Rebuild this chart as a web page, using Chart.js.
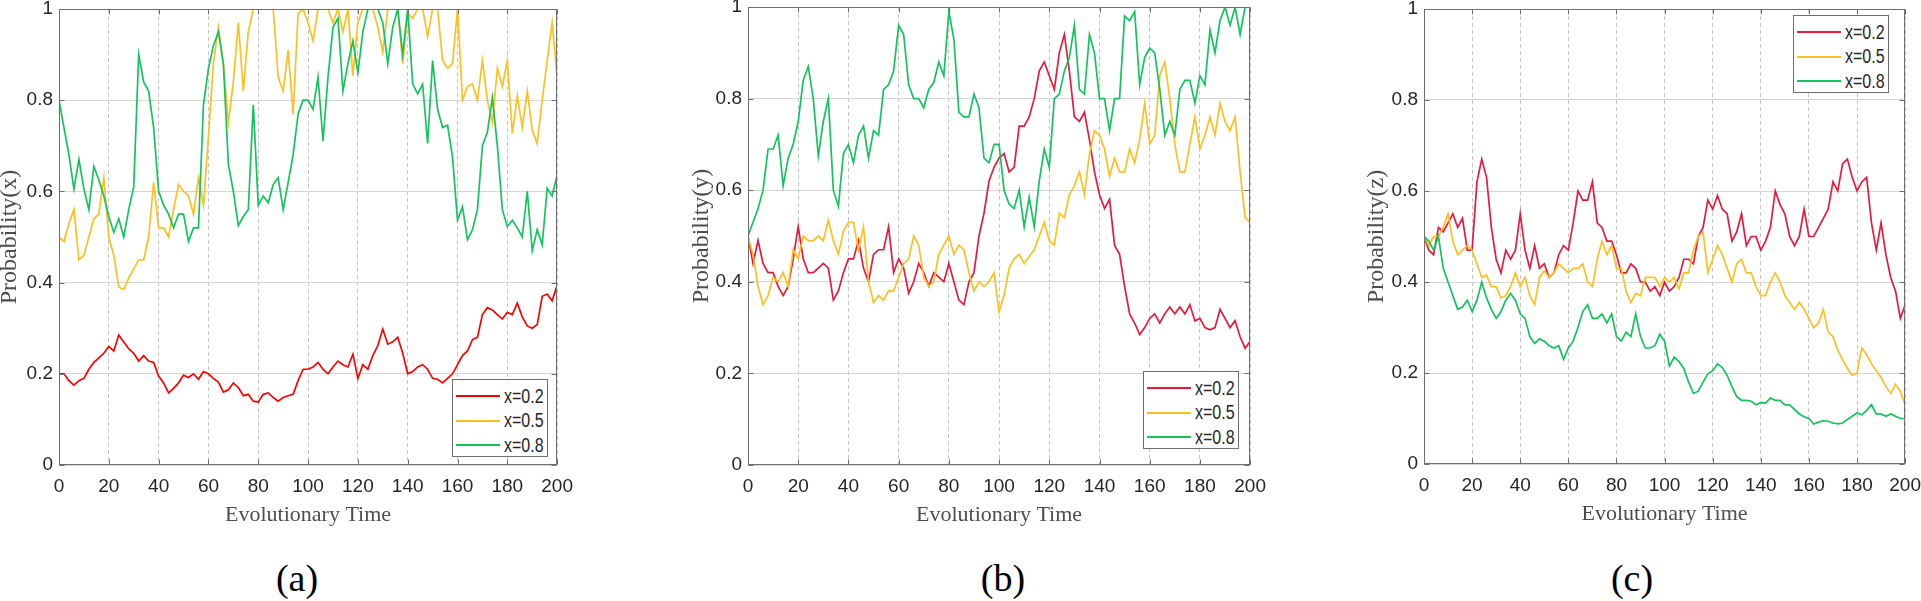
<!DOCTYPE html>
<html>
<head>
<meta charset="utf-8">
<script src="https://cdn.jsdelivr.net/npm/chart.js@4.4.1/dist/chart.umd.min.js"></script>
<style>
    html, body { margin: 0; padding: 0; background: #fff; }
    body { position: relative; width: 1921px; height: 601px; overflow: hidden; }
    .panel { position: absolute; }
    .legend { position: absolute; width: 96px; height: 78px; box-sizing: border-box; background: #fff;
              border: 1px solid #6f6f6f; color: #262626;
              font: 20px 'Liberation Sans', Arial, sans-serif; }
    .legend .row { position: absolute; left: 0; right: 0; height: 24px; margin-top: -12px; display: flex; align-items: center; }
    .legend .swatch { width: 44px; height: 0; border-top: 2px solid; margin: 0 4px 0 3px; flex: none; }
    .legend .label { display: inline-block; transform: scaleX(0.8); transform-origin: left center; white-space: nowrap; }
    .caption { position: absolute; transform: translate(-50%, -50%); font: 38px 'Liberation Serif', serif; color: #000; }
</style>
</head>
<body>
<script>
const time = [0, 2, 4, 6, 8, 10, 12, 14, 16, 18, 20, 22, 24, 26, 28, 30, 32, 34, 36, 38,
    40, 42, 44, 46, 48, 50, 52, 54, 56, 58, 60, 62, 64, 66, 68, 70, 72, 74, 76, 78,
    80, 82, 84, 86, 88, 90, 92, 94, 96, 98, 100, 102, 104, 106, 108, 110, 112, 114, 116, 118,
    120, 122, 124, 126, 128, 130, 132, 134, 136, 138, 140, 142, 144, 146, 148, 150, 152, 154, 156, 158,
    160, 162, 164, 166, 168, 170, 172, 174, 176, 178, 180, 182, 184, 186, 188, 190, 192, 194, 196, 198, 200];

const seriesLabels = ['x=0.2', 'x=0.5', 'x=0.8'];
const xTicks = [0, 20, 40, 60, 80, 100, 120, 140, 160, 180, 200];
const yTicks = [0, 0.2, 0.4, 0.6, 0.8, 1];

// (a) Probability(x)
const aRed = [0.20, 0.20, 0.185, 0.175, 0.185, 0.19, 0.21, 0.225, 0.235, 0.245,
    0.26, 0.25, 0.285, 0.27, 0.255, 0.245, 0.228, 0.24, 0.228, 0.225,
    0.195, 0.18, 0.158, 0.168, 0.18, 0.197, 0.192, 0.2, 0.188, 0.205,
    0.2, 0.19, 0.182, 0.16, 0.165, 0.18, 0.17, 0.152, 0.155, 0.14,
    0.138, 0.155, 0.158, 0.148, 0.14, 0.148, 0.152, 0.155, 0.185, 0.21,
    0.21, 0.215, 0.225, 0.21, 0.2, 0.215, 0.228, 0.22, 0.215, 0.243,
    0.19, 0.22, 0.21, 0.24, 0.262, 0.298, 0.265, 0.27, 0.28, 0.245,
    0.2, 0.205, 0.215, 0.22, 0.21, 0.19, 0.188, 0.18, 0.19, 0.2,
    0.22, 0.24, 0.25, 0.275, 0.28, 0.33, 0.345, 0.34, 0.33, 0.32,
    0.335, 0.33, 0.355, 0.325, 0.305, 0.3, 0.308, 0.37, 0.375, 0.36,
    0.395];
const aYellow = [0.50, 0.49, 0.53, 0.56, 0.45, 0.46, 0.5, 0.54, 0.55, 0.63,
    0.5, 0.46, 0.39, 0.385, 0.41, 0.43, 0.45, 0.45, 0.5, 0.62,
    0.52, 0.52, 0.5, 0.56, 0.615, 0.6, 0.59, 0.55, 0.63, 0.57,
    0.72, 0.88, 0.96, 0.88, 0.75, 0.84, 0.97, 0.82, 0.95, 1.0,
    1.0, 1.0, 1.0, 1.0, 0.85, 0.82, 0.91, 0.77, 0.99, 1.0,
    0.97, 0.93, 1.0, 1.0, 1.0, 0.97, 1.0, 0.95, 1.0, 0.854,
    0.97, 1.0, 1.0, 1.0, 0.96, 0.905, 1.0, 1.0, 1.0, 0.88,
    0.99, 0.98, 1.0, 1.0, 0.94, 1.0, 1.0, 0.887, 0.87, 0.88,
    1.0, 0.8, 0.83, 0.836, 0.8, 0.887, 0.8, 0.75, 0.87, 0.83,
    0.887, 0.727, 0.81, 0.74, 0.82, 0.735, 0.705, 0.8, 0.887, 0.97,
    0.85];
const aGreen = [0.80, 0.74, 0.68, 0.605, 0.67, 0.605, 0.56, 0.655, 0.625, 0.59,
    0.545, 0.51, 0.54, 0.5, 0.56, 0.61, 0.9, 0.84, 0.82, 0.74,
    0.6, 0.57, 0.55, 0.52, 0.55, 0.55, 0.49, 0.52, 0.52, 0.79,
    0.87, 0.92, 0.95, 0.88, 0.66, 0.6, 0.525, 0.545, 0.56, 0.79,
    0.57, 0.59, 0.575, 0.615, 0.63, 0.56, 0.62, 0.68, 0.77, 0.8,
    0.8, 0.78, 0.85, 0.71, 0.85, 0.96, 0.98, 0.82, 0.88, 0.93,
    0.86, 0.95, 1.0, 1.0, 1.0, 0.97, 0.88, 0.96, 1.0, 0.9,
    1.0, 0.836, 0.814, 0.835, 0.705, 0.887, 0.78, 0.74, 0.745, 0.675,
    0.537, 0.566, 0.494, 0.516, 0.56, 0.7, 0.73, 0.806, 0.7, 0.56,
    0.523, 0.537, 0.52, 0.5, 0.6, 0.47, 0.516, 0.483, 0.607, 0.59,
    0.636];

// (b) Probability(y)
const bRed = [0.50, 0.44, 0.49, 0.44, 0.42, 0.42, 0.39, 0.37, 0.39, 0.45,
    0.52, 0.45, 0.42, 0.42, 0.43, 0.44, 0.43, 0.36, 0.38, 0.42,
    0.45, 0.45, 0.49, 0.43, 0.4, 0.46, 0.47, 0.47, 0.52, 0.42,
    0.45, 0.43, 0.375, 0.4, 0.44, 0.42, 0.39, 0.42, 0.41, 0.4,
    0.44, 0.4, 0.36, 0.35, 0.4, 0.42, 0.5, 0.55, 0.62, 0.65,
    0.67, 0.68, 0.64, 0.65, 0.74, 0.74, 0.76, 0.8, 0.86, 0.88,
    0.85, 0.82, 0.9, 0.94, 0.86, 0.76, 0.75, 0.77, 0.71, 0.64,
    0.59, 0.56, 0.58, 0.48, 0.46, 0.39, 0.33, 0.31, 0.285, 0.3,
    0.32, 0.33, 0.31, 0.33, 0.345, 0.33, 0.345, 0.33, 0.35, 0.315,
    0.32, 0.3, 0.295, 0.3, 0.34, 0.32, 0.3, 0.315, 0.28, 0.255,
    0.27];
const bYellow = [0.50, 0.46, 0.39, 0.35, 0.37, 0.41, 0.4, 0.42, 0.39, 0.47,
    0.45, 0.5, 0.49, 0.49, 0.5, 0.49, 0.535, 0.49, 0.46, 0.51,
    0.53, 0.53, 0.47, 0.52, 0.4, 0.355, 0.37, 0.36, 0.38, 0.38,
    0.41, 0.44, 0.45, 0.5, 0.48, 0.41, 0.39, 0.4, 0.46, 0.48,
    0.5, 0.46, 0.48, 0.47, 0.42, 0.38, 0.4, 0.39, 0.4, 0.42,
    0.335, 0.37, 0.43, 0.45, 0.46, 0.44, 0.455, 0.47, 0.5, 0.53,
    0.49, 0.48, 0.55, 0.54, 0.59, 0.61, 0.64, 0.59, 0.68, 0.73,
    0.72, 0.69, 0.63, 0.67, 0.64, 0.64, 0.69, 0.66, 0.71, 0.79,
    0.7, 0.72, 0.85, 0.88, 0.8, 0.7, 0.64, 0.64, 0.7, 0.76,
    0.69, 0.72, 0.76, 0.72, 0.79, 0.75, 0.73, 0.76, 0.64, 0.54,
    0.53];
const bGreen = [0.50, 0.53, 0.56, 0.6, 0.69, 0.69, 0.72, 0.61, 0.67, 0.7,
    0.75, 0.84, 0.87, 0.8, 0.675, 0.75, 0.8, 0.6, 0.565, 0.68,
    0.7, 0.66, 0.72, 0.74, 0.67, 0.73, 0.72, 0.82, 0.83, 0.86,
    0.96, 0.94, 0.83, 0.8, 0.8, 0.78, 0.82, 0.835, 0.88, 0.85,
    0.99, 0.93, 0.77, 0.76, 0.76, 0.81, 0.78, 0.67, 0.66, 0.7,
    0.7, 0.6, 0.57, 0.56, 0.6, 0.52, 0.585, 0.52, 0.62, 0.69,
    0.65, 0.8, 0.81, 0.86, 0.89, 0.96, 0.82, 0.81, 0.94, 0.9,
    0.8, 0.8, 0.73, 0.8, 0.8, 0.98, 0.97, 0.99, 0.83, 0.89,
    0.91, 0.9, 0.82, 0.72, 0.75, 0.72, 0.82, 0.84, 0.84, 0.79,
    0.85, 0.83, 0.95, 0.9, 0.97, 1.0, 0.96, 1.0, 0.94, 1.0,
    1.0];

// (c) Probability(z)
const cRed = [0.50, 0.47, 0.46, 0.52, 0.51, 0.53, 0.55, 0.52, 0.54, 0.47,
    0.47, 0.62, 0.67, 0.63, 0.52, 0.45, 0.42, 0.47, 0.45, 0.47,
    0.55, 0.47, 0.43, 0.48, 0.43, 0.44, 0.41, 0.42, 0.46, 0.48,
    0.47, 0.53, 0.6, 0.58, 0.58, 0.62, 0.53, 0.52, 0.49, 0.49,
    0.46, 0.42, 0.42, 0.44, 0.43, 0.4, 0.4, 0.38, 0.39, 0.37,
    0.4, 0.38, 0.39, 0.41, 0.45, 0.45, 0.44, 0.5, 0.52, 0.58,
    0.56, 0.59, 0.56, 0.55, 0.49, 0.51, 0.55, 0.48, 0.5, 0.5,
    0.47, 0.49, 0.52, 0.6, 0.57, 0.55, 0.5, 0.48, 0.5, 0.56,
    0.5, 0.5, 0.52, 0.54, 0.56, 0.62, 0.6, 0.66, 0.67, 0.63,
    0.6, 0.62, 0.63, 0.53, 0.47, 0.53, 0.46, 0.41, 0.38, 0.32,
    0.35];
const cYellow = [0.50, 0.48, 0.5, 0.5, 0.52, 0.55, 0.49, 0.46, 0.47, 0.48,
    0.47, 0.44, 0.41, 0.415, 0.39, 0.39, 0.365, 0.37, 0.39, 0.42,
    0.39, 0.41, 0.37, 0.35, 0.41, 0.425, 0.41, 0.42, 0.44, 0.43,
    0.42, 0.43, 0.43, 0.44, 0.4, 0.39, 0.45, 0.49, 0.46, 0.48,
    0.43, 0.43, 0.38, 0.355, 0.375, 0.37, 0.41, 0.41, 0.41, 0.39,
    0.41, 0.4, 0.41, 0.385, 0.42, 0.42, 0.47, 0.5, 0.51, 0.42,
    0.45, 0.48, 0.46, 0.43, 0.4, 0.44, 0.45, 0.42, 0.42, 0.39,
    0.37, 0.37, 0.4, 0.42, 0.4, 0.37, 0.355, 0.34, 0.355, 0.34,
    0.32, 0.3, 0.31, 0.34, 0.29, 0.28, 0.25, 0.23, 0.21, 0.195,
    0.2, 0.255, 0.24, 0.22, 0.205, 0.19, 0.17, 0.155, 0.175, 0.16,
    0.13];
const cGreen = [0.50, 0.49, 0.47, 0.5, 0.43, 0.4, 0.37, 0.34, 0.345, 0.36,
    0.335, 0.36, 0.4, 0.365, 0.34, 0.32, 0.335, 0.36, 0.375, 0.36,
    0.33, 0.32, 0.28, 0.265, 0.275, 0.27, 0.26, 0.255, 0.26, 0.23,
    0.255, 0.27, 0.3, 0.335, 0.35, 0.32, 0.32, 0.33, 0.31, 0.33,
    0.28, 0.27, 0.29, 0.28, 0.33, 0.28, 0.255, 0.255, 0.26, 0.285,
    0.27, 0.215, 0.235, 0.225, 0.21, 0.18, 0.155, 0.16, 0.18, 0.198,
    0.205, 0.22, 0.212, 0.195, 0.17, 0.148, 0.14, 0.14, 0.138, 0.13,
    0.135, 0.134, 0.145, 0.14, 0.14, 0.13, 0.13, 0.12, 0.11, 0.104,
    0.1, 0.088, 0.092, 0.095, 0.094, 0.09, 0.088, 0.09, 0.098, 0.105,
    0.112, 0.108, 0.118, 0.13, 0.11, 0.11, 0.105, 0.11, 0.105, 0.1,
    0.1];

const sansFont = "'Liberation Sans', Arial, sans-serif";
const serifFont = "'Liberation Serif', 'DejaVu Serif', serif";

// layout of the three panels (plot area in page pixels)
const panels = [
    { series: [aRed, aYellow, aGreen], yTitle: 'Probability(x)', caption: '(a)', captionX: 297,
      colors: ['#ff0000', '#ffbf1f', '#12c45e'],
      origin: { left: -5, top: -20 }, plot: { left: 59, top: 9, right: 558, bottom: 465 },
      legend: { left: 452, top: 379 } },
    { series: [bRed, bYellow, bGreen], yTitle: 'Probability(y)', caption: '(b)', captionX: 1003,
      colors: ['#e8193c', '#ffbf1f', '#12c45e'],
      origin: { left: 687, top: -20 }, plot: { left: 748, top: 7, right: 1251, bottom: 465 },
      legend: { left: 1143, top: 371 } },
    { series: [cRed, cYellow, cGreen], yTitle: 'Probability(z)', caption: '(c)', captionX: 1632,
      colors: ['#e8193c', '#ffbf1f', '#12c45e'],
      origin: { left: 1362, top: -20 }, plot: { left: 1424, top: 9, right: 1906, bottom: 464 },
      legend: { left: 1793, top: 15 } }
];

// frame round the plot area with small inward ticks, like the original figure
const framePlugin = {
    id: 'frame',
    afterDraw(chart) {
        const { ctx, chartArea: a } = chart;
        const xs = chart.scales.x, ys = chart.scales.y;
        const l = Math.round(a.left) + 0.5, r = Math.round(a.right) - 0.5;
        const t = Math.round(a.top) + 0.5, b = Math.round(a.bottom) - 0.5;
        ctx.save();
        ctx.strokeStyle = '#6f6f6f';
        ctx.lineWidth = 1;
        ctx.strokeRect(l, t, r - l, b - t);
        ctx.beginPath();
        xs.ticks.forEach(tk => {
            const px = Math.round(xs.getPixelForValue(tk.value)) + 0.5;
            ctx.moveTo(px, b); ctx.lineTo(px, b - 5);
            ctx.moveTo(px, t); ctx.lineTo(px, t + 5);
        });
        ys.ticks.forEach(tk => {
            const py = Math.round(ys.getPixelForValue(tk.value)) + 0.5;
            ctx.moveTo(l, py); ctx.lineTo(l + 5, py);
            ctx.moveTo(r, py); ctx.lineTo(r - 5, py);
        });
        ctx.stroke();
        ctx.restore();
    }
};

function createPanel(p) {
    const xAxisHeight = 64;
    const cw = p.plot.right - p.origin.left + 25;
    const ch = p.plot.bottom + xAxisHeight - p.origin.top;

    const wrap = document.createElement('div');
    wrap.className = 'panel';
    wrap.style.left = p.origin.left + 'px';
    wrap.style.top = p.origin.top + 'px';
    const canvas = document.createElement('canvas');
    canvas.width = cw;
    canvas.height = ch;
    canvas.style.width = cw + 'px';
    canvas.style.height = ch + 'px';
    wrap.appendChild(canvas);
    document.body.appendChild(wrap);

    const chart = new Chart(canvas, {
        type: 'line',
        data: {
            datasets: p.series.map((values, i) => ({
                label: seriesLabels[i],
                data: time.map((t, k) => ({ x: t, y: values[k] })),
                borderColor: p.colors[i],
                borderWidth: 1.7,
                pointRadius: 0,
                fill: false,
                tension: 0,
                order: 3 - i
            }))
        },
        options: {
            responsive: false,
            animation: false,
            layout: {
                padding: {
                    left: 0,
                    top: p.plot.top - p.origin.top,
                    right: cw - (p.plot.right - p.origin.left),
                    bottom: 0
                }
            },
            plugins: {
                legend: { display: false },
                tooltip: { enabled: false }
            },
            scales: {
                x: {
                    type: 'linear',
                    min: 0,
                    max: 200,
                    afterBuildTicks: s => { s.ticks = xTicks.map(v => ({ value: v })); },
                    afterFit: s => { s.height = xAxisHeight; },
                    ticks: {
                        color: '#262626',
                        padding: 10,
                        maxRotation: 0,
                        autoSkip: false,
                        font: { family: sansFont, size: 19 },
                        callback: v => String(v)
                    },
                    grid: { color: '#c6c6c6', lineWidth: 1, drawTicks: false },
                    border: { display: false, dash: [4, 3] },
                    title: {
                        display: true,
                        text: 'Evolutionary Time',
                        color: '#4d4d4d',
                        padding: { top: 0, bottom: 1 },
                        font: { family: serifFont, size: 22 }
                    }
                },
                y: {
                    min: 0,
                    max: 1,
                    afterBuildTicks: s => { s.ticks = yTicks.map(v => ({ value: v })); },
                    afterFit: s => { s.width = p.plot.left - p.origin.left; },
                    ticks: {
                        color: '#262626',
                        padding: 6,
                        font: { family: sansFont, size: 19 },
                        callback: v => String(v)
                    },
                    grid: { color: '#d6d6d6', lineWidth: 1, drawTicks: false },
                    border: { display: false },
                    title: {
                        display: true,
                        text: p.yTitle,
                        color: '#4d4d4d',
                        padding: { top: 0, bottom: 0 },
                        font: { family: serifFont, size: 24 }
                    }
                }
            }
        },
        plugins: [framePlugin]
    });

    // legend box inside the plot, built from the chart's datasets
    const legend = document.createElement('div');
    legend.className = 'legend';
    legend.style.left = p.legend.left + 'px';
    legend.style.top = p.legend.top + 'px';
    chart.data.datasets.forEach((ds, i) => {
        const row = document.createElement('div');
        row.className = 'row';
        row.style.top = (16 + i * 24.5) + 'px';
        const swatch = document.createElement('span');
        swatch.className = 'swatch';
        swatch.style.borderTopColor = ds.borderColor;
        const text = document.createElement('span');
        text.className = 'label';
        text.textContent = ds.label;
        row.appendChild(swatch);
        row.appendChild(text);
        legend.appendChild(row);
    });
    document.body.appendChild(legend);

    const cap = document.createElement('div');
    cap.className = 'caption';
    cap.style.left = p.captionX + 'px';
    cap.style.top = '578px';
    cap.textContent = p.caption;
    document.body.appendChild(cap);

    return chart;
}

panels.forEach(createPanel);
</script>
</body>
</html>
